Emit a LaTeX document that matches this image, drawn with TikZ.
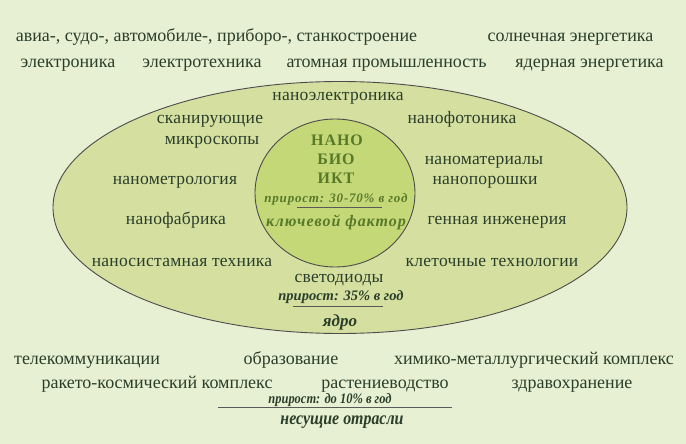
\documentclass[tikz,border=0pt]{standalone}
\usepackage{fontspec}
\setmainfont{Liberation Serif}
\newfontfamily\spacedfont[LetterSpace=1.5]{Liberation Serif}
\newfontfamily\widefont[LetterSpace=6]{Liberation Serif}
\newfontfamily\condfont[FakeStretch=0.86]{Liberation Serif}
\definecolor{bgcol}{RGB}{232,240,211}
\definecolor{outercol}{RGB}{213,224,160}
\definecolor{innercol}{RGB}{196,216,120}
\definecolor{txtcol}{RGB}{42,62,42}
\definecolor{headcol}{RGB}{88,122,40}
\tikzset{
  branch/.style = {font=\fontsize{18}{20}\selectfont, text=txtcol, inner sep=0pt, anchor=base},
  nano/.style   = {font=\spacedfont\fontsize{17.5}{20}\selectfont, text=txtcol, inner sep=0pt, anchor=base},
  head/.style   = {font=\widefont\bfseries\fontsize{16}{19}\selectfont, text=headcol, inner sep=0pt, anchor=base},
  rate/.style   = {font=\bfseries\itshape\fontsize{14.5}{16}\selectfont, text=txtcol, inner sep=0pt, anchor=base},
  title/.style  = {font=\bfseries\itshape\fontsize{17}{19}\selectfont, text=txtcol, inner sep=0pt, anchor=base},
  rule/.style   = {line width=1pt, black!65},
}

\begin{document}
\begin{tikzpicture}[x=1pt, y=-1pt]
        \useasboundingbox (0,0) rectangle (686,444);
        \fill[bgcol] (0,0) rectangle (686,444);
        % the two zones
        \draw[fill=outercol, draw=black!70, line width=0.9pt] (340,207.5) ellipse (287 and 126);
        \draw[fill=innercol, draw=black!70, line width=0.9pt] (335,193) ellipse (80 and 74);
        % carrying branches, top
        \node[branch] (avia)   at (216.5,42) {авиа-, судо-, автомобиле-, приборо-, станкостроение};
        \node[branch] (solar)  at (570.5,42) {солнечная энергетика};
        \node[branch] (elnic)  at (68,68)    {электроника};
        \node[branch] (eltech) at (202,68)   {электротехника};
        \node[branch] (atom)   at (386.5,68) {атомная промышленность};
        \node[branch] (nucl)   at (589.5,68) {ядерная энергетика};
        % the core
        \node[nano] (nelec)  at (338,101)  {наноэлектроника};
        \node[nano] (scana)  at (210,124)  {сканирующие};
        \node[nano] (scanb)  at (212,144)  {микроскопы};
        \node[nano] (nphot)  at (462,124)  {нанофотоника};
        \node[nano] (nmetr)  at (175,184)  {нанометрология};
        \node[nano] (nmata)  at (484,164)  {наноматериалы};
        \node[nano] (nmatb)  at (485,184)  {нанопорошки};
        \node[nano] (nfab)   at (176,224)  {нанофабрика};
        \node[nano] (gene)   at (497,224)  {генная инженерия};
        \node[nano] (nsys)   at (182,266)  {наносистамная техника};
        \node[nano] (cell)   at (492,266)  {клеточные технологии};
        \node[nano] (led)    at (339,282)  {светодиоды};
        \node[rate] (rcore)  at (341,300)  {прирост: 35\% в год};
        \coordinate (cl) at (293,306);
        \coordinate (cr) at (383,306);
        \draw[rule] (cl) -- (cr);
        \node[title] (core)  at (340,326)  {ядро};
        % key factor
        \node[head] (hnano)  at (337,145)  {НАНО};
        \node[head] (hbio)   at (336,164)  {БИО};
        \node[head] (hict)   at (336,183)  {ИКТ};
        \node[rate, text=headcol, font=\widefont\bfseries\itshape\fontsize{13}{15}\selectfont] (rkey) at (336,202) {прирост: 30-70\% в год};
        \coordinate (kl) at (297,207);
        \coordinate (kr) at (382,207);
        \draw[rule] (kl) -- (kr);
        \node[title, text=headcol, font=\widefont\bfseries\itshape\fontsize{16}{18}\selectfont] (key) at (336,226) {ключевой фактор};
        % carrying branches, bottom
        \node[branch] (tele)   at (87,364)  {телекоммуникации};
        \node[branch] (edu)    at (291,364) {образование};
        \node[branch] (chem)   at (534,364) {химико-металлургический комплекс};
        \node[branch] (rock)   at (157,388) {ракето-космический комплекс};
        \node[branch] (plant)  at (385,388) {растениеводство};
        \node[branch] (health) at (572,388) {здравохранение};
        \node[rate, font=\condfont\bfseries\itshape\fontsize{14.5}{16}\selectfont] (rcarry) at (330,403) {прирост: до 10\% в год};
        \coordinate (bl) at (218,407);
        \coordinate (br) at (452,407);
        \draw[rule] (bl) -- (br);
        \node[title, font=\condfont\bfseries\itshape\fontsize{18.5}{20}\selectfont] (carry) at (342,424) {несущие отрасли};
    \end{tikzpicture}
\end{document}
